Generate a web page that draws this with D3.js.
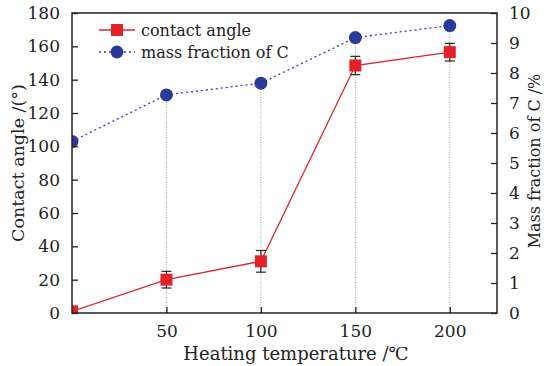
<html>
<style>
  body { margin: 0; background: #fff; }
</style>
<script src="https://d3js.org/d3.v7.min.js" charset="utf-8"></script>
<body>
<div id="chart"></div>
<script>
  // data
  var temps = [0, 50, 100, 150, 200];
  var angle = [1, 20, 31, 148.5, 156.5];
  var angleErr = [0, 5, 6.5, 5.5, 5.3];
  var carbon = [5.72, 7.27, 7.66, 9.18, 9.58];
  var xTicks = [50, 100, 150, 200];
  var leftTicks = [0, 20, 40, 60, 80, 100, 120, 140, 160, 180];
  var rightTicks = [0, 1, 2, 3, 4, 5, 6, 7, 8, 9, 10];

  //************************************************************
  // Configuration
  //************************************************************
  var W = 544, H = 366;
  var margin = { top: 13, right: 47, bottom: 53, left: 72 };
  var FONT = "DejaVu Serif";

  var svg = d3.select("#chart").append("svg")
      .attr("width", W)
      .attr("height", H)
      .attr("font-family", FONT);

  var x = d3.scaleLinear().domain([0, 225]).range([margin.left, W - margin.right]);
  var yL = d3.scaleLinear().domain([0, 180]).range([H - margin.bottom, margin.top]);
  var yR = d3.scaleLinear().domain([0, 10]).range([H - margin.bottom, margin.top]);

  // clip marks to the plot area (first points sit on the left axis)
  svg.append("clipPath").attr("id", "plot")
    .append("rect")
      .attr("x", margin.left).attr("y", 0)
      .attr("width", W - margin.left - margin.right)
      .attr("height", H - margin.bottom);
  var plot = svg.append("g").attr("clip-path", "url(#plot)");

  // vertical dotted guides from the axis to the C points
  plot.selectAll("line.guide")
      .data(temps.slice(1))
      .enter().append("line")
      .attr("class", "guide")
      .attr("x1", function(d) { return x(d); })
      .attr("x2", function(d) { return x(d); })
      .attr("y1", yR(0))
      .attr("y2", function(d, i) { return yR(carbon[i + 1]); })
      .attr("stroke", "#888")
      .attr("stroke-width", 0.8)
      .attr("stroke-dasharray", "1,1.5");

  // mass fraction of C: blue dotted line
  var lineC = d3.line()
      .x(function(d, i) { return x(temps[i]); })
      .y(function(d) { return yR(d); });
  plot.append("path")
      .datum(carbon)
      .attr("d", lineC)
      .attr("fill", "none")
      .attr("stroke", "#3a3aa8")
      .attr("stroke-width", 1.3)
      .attr("stroke-dasharray", "2,3");

  // contact angle: red line
  var lineA = d3.line()
      .x(function(d, i) { return x(temps[i]); })
      .y(function(d) { return yL(d); });
  plot.append("path")
      .datum(angle)
      .attr("d", lineA)
      .attr("fill", "none")
      .attr("stroke", "#d8262e")
      .attr("stroke-width", 1.3);

  // error bars
  var errs = temps.map(function(t, i) { return { t: t, v: angle[i], e: angleErr[i] }; })
      .filter(function(d) { return d.e > 0; });
  var eb = plot.selectAll("g.err")
      .data(errs)
      .enter().append("g")
      .attr("class", "err");
  eb.append("line")
      .attr("x1", function(d) { return x(d.t); })
      .attr("x2", function(d) { return x(d.t); })
      .attr("y1", function(d) { return yL(d.v + d.e); })
      .attr("y2", function(d) { return yL(d.v - d.e); })
      .attr("stroke", "#222").attr("stroke-width", 1.2);
  [1, -1].forEach(function(s) {
    eb.append("line")
        .attr("x1", function(d) { return x(d.t) - 5; })
        .attr("x2", function(d) { return x(d.t) + 5; })
        .attr("y1", function(d) { return yL(d.v + s * d.e); })
        .attr("y2", function(d) { return yL(d.v + s * d.e); })
        .attr("stroke", "#222").attr("stroke-width", 1.2);
  });

  // markers
  plot.selectAll("circle.c")
      .data(carbon)
      .enter().append("circle")
      .attr("class", "c")
      .attr("cx", function(d, i) { return x(temps[i]); })
      .attr("cy", function(d) { return yR(d); })
      .attr("r", 6.5)
      .attr("fill", "#2b3a9a");
  plot.selectAll("rect.a")
      .data(angle)
      .enter().append("rect")
      .attr("class", "a")
      .attr("x", function(d, i) { return x(temps[i]) - 6; })
      .attr("y", function(d) { return yL(d) - 6; })
      .attr("width", 12).attr("height", 12)
      .attr("fill", "#e4202a");

  // frame
  svg.append("rect")
      .attr("x", margin.left).attr("y", margin.top)
      .attr("width", W - margin.left - margin.right)
      .attr("height", H - margin.top - margin.bottom)
      .attr("fill", "none").attr("stroke", "#222").attr("stroke-width", 1.5);

  // axes, ticks pointing inward
  function styleAxis(g) {
    g.attr("font-family", FONT).attr("font-size", 17);
    g.select(".domain").remove();
    g.selectAll(".tick line").attr("stroke", "#222").attr("stroke-width", 1.3);
    g.selectAll(".tick text").attr("fill", "#222");
  }
  svg.append("g")
      .attr("transform", "translate(0," + (H - margin.bottom) + ")")
      .call(d3.axisBottom(x).tickValues(xTicks).tickSizeInner(-6).tickPadding(12))
      .call(styleAxis);
  svg.append("g")
      .attr("transform", "translate(" + margin.left + ",0)")
      .call(d3.axisLeft(yL).tickValues(leftTicks).tickSizeInner(-6).tickPadding(12))
      .call(styleAxis);
  svg.append("g")
      .attr("transform", "translate(" + (W - margin.right) + ",0)")
      .call(d3.axisRight(yR).tickValues(rightTicks).tickSizeInner(-6).tickPadding(12))
      .call(styleAxis);

  // legend
  var lg = svg.append("g").attr("transform", "translate(99,30)");
  lg.append("line").attr("x1", 0).attr("x2", 36).attr("y1", 0).attr("y2", 0)
      .attr("stroke", "#d8262e").attr("stroke-width", 1.3);
  lg.append("rect").attr("x", 12).attr("y", -6).attr("width", 12).attr("height", 12)
      .attr("fill", "#e4202a");
  lg.append("text").attr("x", 42).attr("y", 6).attr("font-size", 16).attr("fill", "#222")
      .text("contact angle");
  lg.append("line").attr("x1", 0).attr("x2", 36).attr("y1", 22).attr("y2", 22)
      .attr("stroke", "#3a3aa8").attr("stroke-width", 1.3).attr("stroke-dasharray", "2,3");
  lg.append("circle").attr("cx", 18).attr("cy", 22).attr("r", 6.5).attr("fill", "#2b3a9a");
  lg.append("text").attr("x", 42).attr("y", 28).attr("font-size", 16).attr("fill", "#222")
      .text("mass fraction of C");

  // axis titles
  svg.append("text")
      .attr("x", 296).attr("y", 360)
      .attr("text-anchor", "middle")
      .attr("font-size", 18).attr("fill", "#222")
      .text("Heating temperature /℃");
  svg.append("text")
      .attr("transform", "translate(24,163) rotate(-90)")
      .attr("text-anchor", "middle")
      .attr("font-size", 17.5).attr("fill", "#222")
      .text("Contact angle /(°)");
  svg.append("text")
      .attr("transform", "translate(540,161) rotate(-90)")
      .attr("text-anchor", "middle")
      .attr("font-size", 16).attr("fill", "#222")
      .text("Mass fraction of C /%");
</script>
</body>
</html>
